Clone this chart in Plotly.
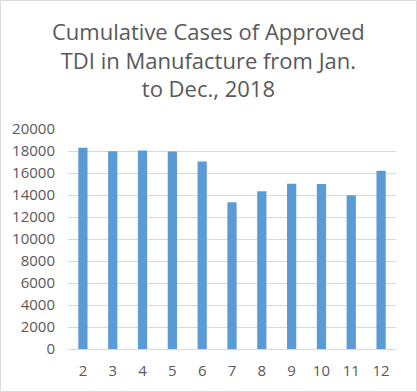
import plotly.graph_objects as go

months = ["2", "3", "4", "5", "6", "7", "8", "9", "10", "11", "12"]
cases = [18300, 17980, 18050, 17960, 17050, 13350, 14350, 15020, 15000, 13980, 16200]
y_ticks = list(range(0, 20001, 2000))
title_lines = ["Cumulative Cases of Approved", "TDI in Manufacture from Jan.", "to Dec., 2018"]

W, H = 417, 392
L, R, T, B = 68, 21, 129, 43

fig = go.Figure(go.Bar(x=months, y=cases, marker=dict(color="#5b9bd5", line=dict(width=0))))

fig.update_layout(
    width=W, height=H,
    margin=dict(l=L, r=R, t=T, b=B, autoexpand=False),
    paper_bgcolor="white", plot_bgcolor="white",
    bargap=0.69,
    showlegend=False,
    font=dict(family="Open Sans", color="#595959"),
    xaxis=dict(type="category", tickfont=dict(size=15, color="#595959"), showgrid=False,
               ticks="", showline=True, linecolor="#d9d9d9", linewidth=1,
               ticklabelstandoff=8),
    yaxis=dict(range=[0, 20000], tickvals=y_ticks, ticktext=[str(v) for v in y_ticks],
               tickfont=dict(size=15, color="#595959"),
               showgrid=True, gridcolor="#d9d9d9", gridwidth=1, zeroline=False, ticks="",
               showline=False, ticklabelstandoff=12),
)

pw, ph = W - L - R, H - T - B
fig.add_annotation(
    text="<br>".join(title_lines), showarrow=False,
    xref="paper", yref="paper",
    x=(W / 2 - L) / pw, y=(H - 14 - B) / ph, xanchor="center", yanchor="top",
    font=dict(size=22, color="#595959", family="Open Sans"),
)
fig.add_shape(type="rect", xref="paper", yref="paper",
              x0=(-L + 0.5) / pw, x1=(pw + R - 0.5) / pw,
              y0=(-B + 0.5) / ph, y1=(ph + T - 0.5) / ph,
              line=dict(color="#d9d9d9", width=1), fillcolor="rgba(0,0,0,0)", layer="below")

fig.write_html("out.html", config={"displayModeBar": False},
               post_script="document.body.style.margin='0';document.body.style.overflow='hidden';")
